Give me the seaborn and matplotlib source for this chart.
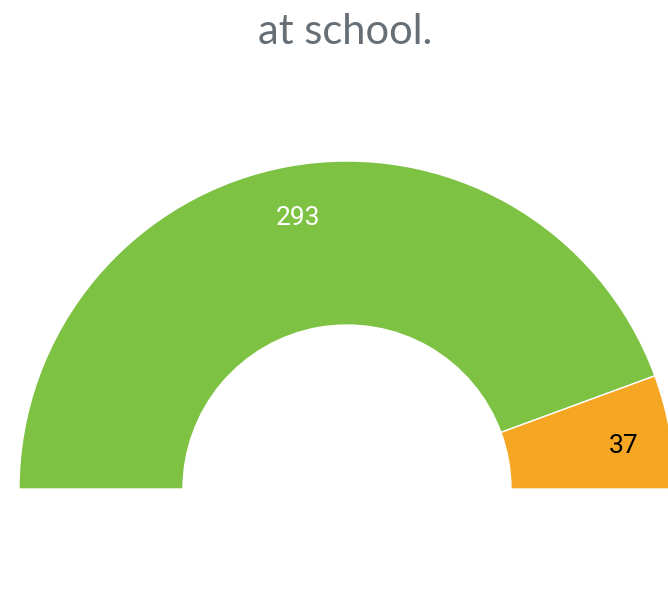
import matplotlib
matplotlib.use("Agg")
import matplotlib.pyplot as plt
import numpy as np
import seaborn as sns

# data
categories = ["Yes", "No"]
values = [293, 37]
colors = ["#7dc243", "#f5a623"]
label_colors = ["white", "black"]
title_lines = ["Young people reporting that they are happy", "at school."]


def main():
    sns.set_theme(style="white")
    plt.rcParams["font.family"] = ["Lato", "DejaVu Sans"]

    W, H = 668, 589
    fig = plt.figure(figsize=(W / 100, H / 100), dpi=100)
    ax = fig.add_axes([0, 0, 1, 1])

    cx, cy = 347, H - 489
    total = sum(values)
    # half donut: an invisible slice takes the bottom half
    wedges, _ = ax.pie(
        values + [total],
        colors=colors + ["none"],
        startangle=180,
        counterclock=False,
        center=(cx, cy),
        radius=328,
        wedgeprops=dict(width=164, edgecolor="white", linewidth=1),
        frame=True,
    )
    wedges[-1].set_edgecolor("none")

    # data labels inside the ring
    angle = 180.0
    for v, lc in zip(values, label_colors):
        span = 180.0 * v / total
        mid = angle - span / 2
        angle -= span
        r = 281
        x = cx + r * np.cos(np.radians(mid))
        y = cy + r * np.sin(np.radians(mid)) - 6
        ax.text(x, y, str(v), ha="center", va="center", fontsize=19,
                color=lc, family=["Roboto", "DejaVu Sans"])

    ax.set_xlim(0, W)
    ax.set_ylim(0, H)
    ax.set_aspect("equal")
    ax.axis("off")

    # title (first line mostly cut off at the top, as in the original)
    fig.text(345 / W, 1 - (-6.5) / H, title_lines[0], ha="center", va="baseline",
             fontsize=30, color="#666e76")
    fig.text(345 / W, 1 - 44 / H, title_lines[1], ha="center", va="baseline",
             fontsize=30, color="#666e76")

    fig.savefig("out.png", dpi=100)
    plt.close(fig)


if __name__ == "__main__":
    main()
